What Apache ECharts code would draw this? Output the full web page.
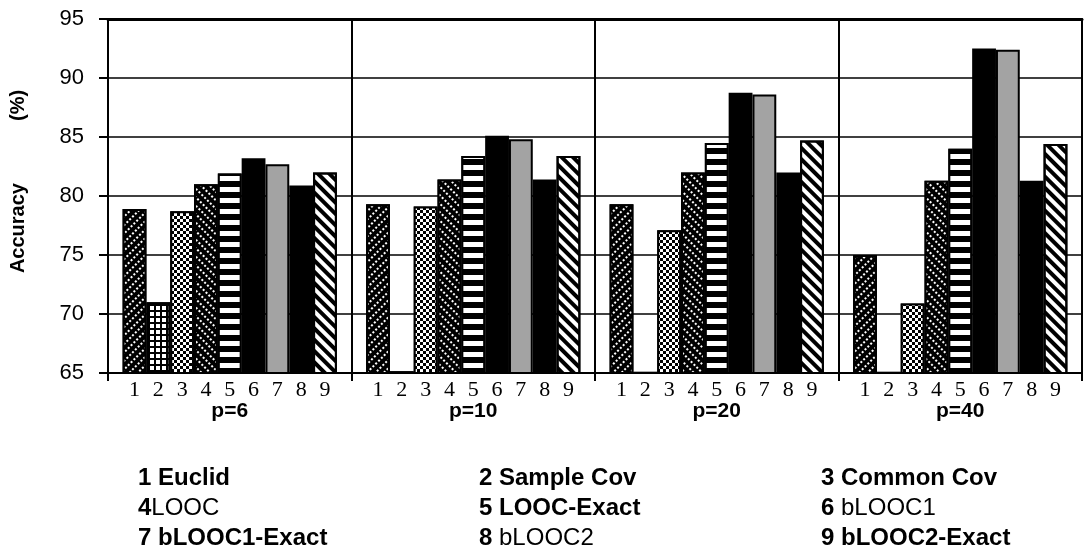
<!DOCTYPE html>
<html>
<head>
<meta charset="utf-8">
<script src="https://cdn.jsdelivr.net/npm/echarts@6/dist/echarts.min.js"></script>
<style>html,body{margin:0;padding:0;background:#fff}#c{width:1086px;height:557px}</style>
</head>
<body>
<div id="c"></div>
<script>
// ---- data ----
var groups = ['p=6', 'p=10', 'p=20', 'p=40'];
var methodNames = ['Euclid', 'Sample Cov', 'Common Cov', 'LOOC', 'LOOC-Exact', 'bLOOC1', 'bLOOC1-Exact', 'bLOOC2', 'bLOOC2-Exact'];
var euclid      = [78.9, 79.3, 79.3, 75.0];
var sampleCov   = [71.0, 65.15, 65.1, 65.1];
var commonCov   = [78.7, 79.1, 77.1, 70.9];
var looc        = [81.0, 81.4, 82.0, 81.3];
var loocExact   = [81.9, 83.4, 84.5, 84.0];
var blooc1      = [83.2, 85.1, 88.75, 92.5];
var blooc1Exact = [82.7, 84.8, 88.6, 92.4];
var blooc2      = [80.9, 81.4, 82.0, 81.3];
var blooc2Exact = [82.0, 83.4, 84.7, 84.4];
var yTicks = [65, 70, 75, 80, 85, 90, 95];

var seriesValues = [euclid, sampleCov, commonCov, looc, loocExact, blooc1, blooc1Exact, blooc2, blooc2Exact];

// ---- styles ----
var Q = Math.PI / 4;
var styles = [
  {color: '#000', decal: {symbol: 'rect', symbolSize: 1, color: '#fff', dashArrayX: [2, 1.5], dashArrayY: [1.2, 3.2], rotation: -Q}},
  {color: '#000', decal: {symbol: 'rect', symbolSize: 1, color: '#fff', dashArrayX: [4, 2], dashArrayY: [4, 2]}},
  {color: '#000', decal: {symbol: 'rect', symbolSize: 1, color: '#fff', dashArrayX: [[3, 3], [0, 3, 3, 0]], dashArrayY: [3, 0]}},
  {color: '#000', decal: {symbol: 'rect', symbolSize: 1, color: '#fff', dashArrayX: [2, 1.5], dashArrayY: [1.2, 3.2], rotation: Q}},
  {color: '#000', decal: {symbol: 'rect', symbolSize: 1, color: '#fff', dashArrayX: [1, 0], dashArrayY: [4.5, 5.5]}},
  {color: '#000'},
  {color: '#a3a3a3'},
  {color: '#000'},
  {color: '#fff', decal: {symbol: 'rect', symbolSize: 1, color: '#000', dashArrayX: [1, 0], dashArrayY: [3.5, 3.5], rotation: Q}}
];

var series = methodNames.map(function (name, i) {
  var st = styles[i];
  var itemStyle = {color: st.color, borderColor: '#000', borderWidth: 2};
  if (st.decal) itemStyle.decal = st.decal;
  return {
    name: name,
    type: 'bar',
    barGap: '0%',
    barCategoryGap: '12%',
    data: seriesValues[i],
    itemStyle: itemStyle,
    emphasis: {disabled: true},
    label: {
      show: true, position: 'bottom', distance: 5,
      formatter: String(i + 1),
      fontFamily: 'Liberation Serif', fontSize: 22, color: '#000'
    }
  };
});

function legendFmt(name) {
  var n = methodNames.indexOf(name) + 1;
  var regular = {'LOOC': 1, 'bLOOC1': 1, 'bLOOC2': 1};
  if (regular[name]) {
    return '{b|' + n + (name === 'LOOC' ? '' : ' ') + '}{r|' + name + '}';
  }
  return '{b|' + n + ' ' + name + '}';
}
var legendText = {
  rich: {
    b: {fontFamily: 'Liberation Sans', fontWeight: 'bold', fontSize: 24, color: '#000'},
    r: {fontFamily: 'Liberation Sans', fontWeight: 'normal', fontSize: 24, color: '#000'}
  }
};
function makeLegend(names, left) {
  return {
    orient: 'vertical', left: left, top: 466,
    data: names, icon: 'rect', itemWidth: 0, itemHeight: 0, itemGap: 6,
    selectedMode: false, formatter: legendFmt, textStyle: legendText, padding: 0
  };
}

var option = {
  animation: false,
  backgroundColor: '#fff',
  grid: {left: 105, right: 4, top: 19, bottom: 184, containLabel: false},
  legend: [
    makeLegend([methodNames[0], methodNames[3], methodNames[6]], 132),
    makeLegend([methodNames[1], methodNames[4], methodNames[7]], 473),
    makeLegend([methodNames[2], methodNames[5], methodNames[8]], 815)
  ],
  xAxis: [{
    type: 'category', data: groups, position: 'bottom',
    axisLine: {show: true, lineStyle: {color: '#000', width: 2}},
    axisTick: {show: true, length: 8, inside: false, interval: 0, lineStyle: {color: '#000', width: 2}},
    splitLine: {show: true, interval: 0, lineStyle: {color: '#000', width: 2}},
    axisLabel: {margin: 28, fontFamily: 'Liberation Sans', fontWeight: 'bold', fontSize: 21, color: '#000'}
  }, {
    type: 'category', data: groups, position: 'top',
    axisLine: {show: true, lineStyle: {color: '#000', width: 3}},
    axisTick: {show: false}, axisLabel: {show: false}, splitLine: {show: false}
  }],
  yAxis: [{
    type: 'value', min: yTicks[0], max: yTicks[yTicks.length - 1], interval: 5,
    axisLine: {show: true, lineStyle: {color: '#000', width: 2}},
    axisTick: {show: true, length: 9, inside: false, lineStyle: {color: '#000', width: 2}},
    splitLine: {show: true, lineStyle: {color: '#000', width: 1.5}},
    axisLabel: {margin: 24, fontFamily: 'Liberation Sans', fontSize: 22, color: '#000'},
    name: '{g0|}{a|Accuracy}{g|}{a|(%)}',
    nameLocation: 'middle', nameGap: 80, nameRotate: 90,
    nameTextStyle: {
      rich: {
        a: {fontFamily: 'Liberation Sans', fontWeight: 'bold', fontSize: 20, color: '#000'},
        g: {width: 62},
        g0: {width: 29}
      }
    }
  }, {
    type: 'value', min: yTicks[0], max: yTicks[yTicks.length - 1], interval: 5, position: 'right',
    axisLine: {show: true, lineStyle: {color: '#000', width: 2}},
    axisTick: {show: false}, axisLabel: {show: false}, splitLine: {show: false}
  }],
  series: series
};

var chart = echarts.init(document.getElementById('c'), null, {renderer: 'canvas'});
chart.setOption(option);
</script>
</body>
</html>
